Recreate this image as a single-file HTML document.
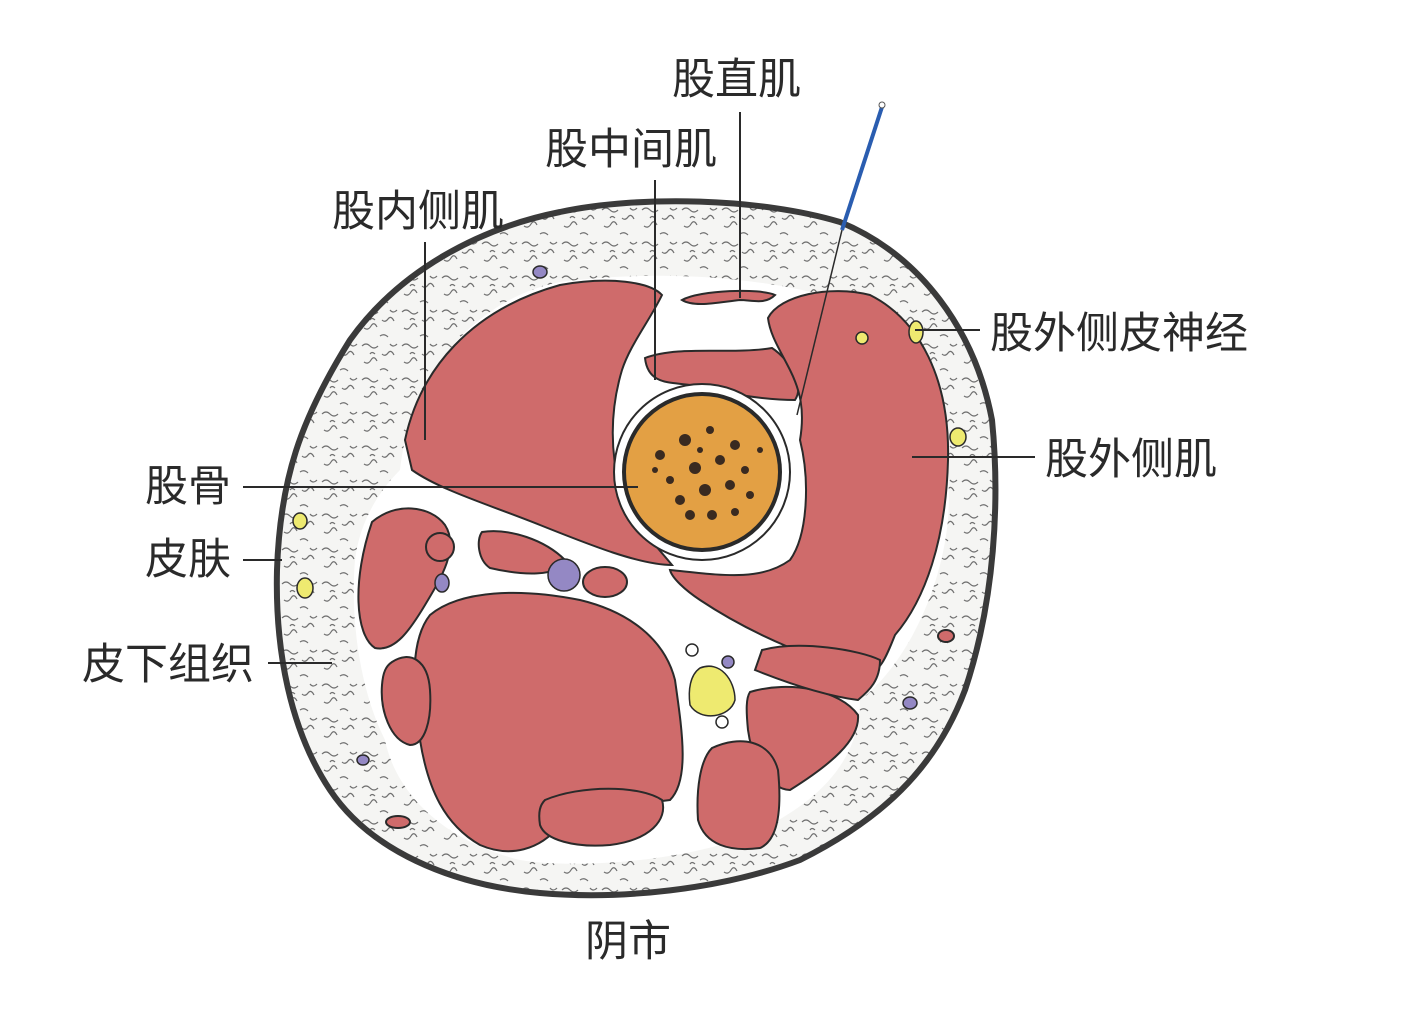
<!DOCTYPE html>
<html><head><meta charset="utf-8"><style>
html,body{margin:0;padding:0;background:#fff;}
svg{display:block;}
text{font-family:"Liberation Sans","Noto Sans CJK SC",sans-serif;font-size:43px;fill:#2a2a2a;}
</style></head><body>
<svg width="1405" height="1017" viewBox="0 0 1405 1017" xmlns="http://www.w3.org/2000/svg">
<defs>
<pattern id="sq" width="40" height="34" patternUnits="userSpaceOnUse">
<rect width="40" height="34" fill="#f5f5f3"/>
<path d="M2 6 q4 -4 8 0 t8 0 M22 14 q3 3 6 -1 t6 2 M4 22 q4 3 7 -2 t6 1 M20 30 q4 -3 8 1 M30 4 q3 4 7 0 M10 14 q2 -3 5 0" stroke="#707070" stroke-width="1.2" fill="none"/>
</pattern>
</defs>
<rect width="1405" height="1017" fill="#fff"/>
<path d="M560 212 C640 195 760 198 840 222 C920 255 975 330 992 420 C1000 500 995 600 965 690 C935 770 880 820 800 860 C720 890 620 900 540 893 C450 885 370 850 330 790 C290 730 275 650 277 570 C280 480 300 420 350 340 C400 270 480 228 560 212 Z" fill="url(#sq)" stroke="#3a3a3a" stroke-width="6"/>
<path d="M400 470 C410 380 470 300 560 282 C650 270 760 275 840 300 C920 330 955 420 948 520 C940 600 900 670 860 700 C860 760 820 800 760 830 C700 860 580 870 520 860 C440 840 395 790 385 740 C360 690 350 620 355 560 C360 520 380 490 400 470 Z" fill="#fff"/>
<g fill="#cf6b6b" stroke="#2a2a2a" stroke-width="2">
<path d="M405 440 C420 370 470 310 560 285 C610 276 650 282 662 295 C650 320 630 345 622 370 C610 410 610 450 620 490 C635 525 660 550 672 565 C640 565 590 545 540 525 C490 505 440 490 412 470 Z"/>
<path d="M682 300 C700 290 760 288 775 295 C765 305 752 300 740 300 C720 302 695 308 682 300 Z"/>
<path d="M645 358 C680 345 730 355 772 348 C790 360 805 385 795 400 C760 400 720 392 690 385 C670 382 648 385 645 358 Z"/>
<path d="M768 318 C780 295 830 285 870 295 C920 320 950 380 948 460 C946 540 925 600 895 635 C885 660 880 672 865 675 C820 660 760 640 700 600 C685 590 672 578 670 570 C720 575 760 582 790 560 C808 535 810 480 800 440 C805 410 800 390 790 370 C780 350 770 335 768 318 Z"/>
<path d="M372 522 C395 502 430 505 445 525 C460 548 440 580 425 605 C410 630 395 652 375 648 C355 635 352 580 372 522 Z"/>
<path d="M482 532 C510 528 545 540 565 560 C560 578 520 575 490 568 C478 560 476 540 482 532 Z"/>
<path d="M430 615 C460 590 520 588 580 600 C630 612 665 640 675 680 C682 730 690 780 670 800 C630 805 590 810 560 825 C540 850 510 858 480 845 C445 825 428 790 420 740 C412 690 410 640 430 615 Z"/>
<path d="M392 662 C410 650 428 660 430 690 C432 720 425 745 410 745 C390 740 380 710 382 685 C383 672 386 666 392 662 Z"/>
<path d="M750 692 C790 680 840 690 858 715 C860 740 830 765 790 790 C770 790 752 760 748 730 C746 710 746 698 750 692 Z"/>
<path d="M712 748 C740 735 770 740 778 770 C782 810 778 840 760 848 C730 852 705 845 698 820 C696 790 700 760 712 748 Z"/>
<path d="M545 800 C580 785 640 785 662 800 C668 820 650 840 610 845 C575 848 545 840 540 825 C538 812 540 805 545 800 Z"/>
<path d="M762 650 C800 640 860 650 880 660 C880 680 870 690 858 700 C820 695 780 680 755 670 Z"/>
<ellipse cx="440" cy="547" rx="14" ry="14"/>
<ellipse cx="605" cy="582" rx="22" ry="15"/>
<ellipse cx="398" cy="822" rx="12" ry="6"/>
<ellipse cx="946" cy="636" rx="8" ry="6"/>
</g>
<g stroke="#2a2a2a" stroke-width="1.5">
<ellipse cx="564" cy="575" rx="16" ry="16" fill="#9488c4"/>
<ellipse cx="442" cy="583" rx="7" ry="9" fill="#9488c4"/>
<ellipse cx="728" cy="662" rx="6" ry="6" fill="#9488c4"/>
<ellipse cx="910" cy="703" rx="7" ry="6" fill="#9488c4"/>
<ellipse cx="540" cy="272" rx="7" ry="6" fill="#9488c4"/>
<ellipse cx="363" cy="760" rx="6" ry="5" fill="#9488c4"/>
<path d="M700 668 C720 660 735 680 735 700 C730 718 700 722 690 705 C688 690 690 675 700 668 Z" fill="#eeea70"/>
<ellipse cx="692" cy="650" rx="6" ry="6" fill="#fff"/>
<ellipse cx="722" cy="722" rx="6" ry="6" fill="#fff"/>
<ellipse cx="916" cy="332" rx="7" ry="11" fill="#eeea70"/>
<ellipse cx="862" cy="338" rx="6" ry="6" fill="#eeea70"/>
<ellipse cx="958" cy="437" rx="8" ry="9" fill="#eeea70"/>
<ellipse cx="300" cy="521" rx="7" ry="8" fill="#eeea70"/>
<ellipse cx="305" cy="588" rx="8" ry="10" fill="#eeea70"/>
</g>
<circle cx="702" cy="472" r="88" fill="#fff" stroke="#2a2a2a" stroke-width="2"/>
<circle cx="702" cy="472" r="78" fill="#e3a044" stroke="#2a2a2a" stroke-width="4"/>
<g fill="#3a2a20">
<circle cx="660" cy="455" r="5"/><circle cx="685" cy="440" r="6"/><circle cx="710" cy="430" r="4"/><circle cx="735" cy="445" r="5"/>
<circle cx="670" cy="480" r="4"/><circle cx="695" cy="468" r="6"/><circle cx="720" cy="460" r="5"/><circle cx="745" cy="470" r="4"/>
<circle cx="680" cy="500" r="5"/><circle cx="705" cy="490" r="6"/><circle cx="730" cy="485" r="5"/><circle cx="750" cy="495" r="4"/>
<circle cx="690" cy="515" r="5"/><circle cx="712" cy="515" r="5"/><circle cx="735" cy="512" r="4"/><circle cx="655" cy="470" r="3"/>
<circle cx="700" cy="450" r="3"/><circle cx="760" cy="450" r="3"/>
</g>
<g stroke="#2a2a2a" stroke-width="2">
<line x1="740" y1="112" x2="740" y2="298"/>
<line x1="655" y1="180" x2="655" y2="380"/>
<line x1="425" y1="242" x2="425" y2="440"/>
<line x1="243" y1="487" x2="638" y2="487"/>
<line x1="243" y1="560" x2="282" y2="560"/>
<line x1="268" y1="663" x2="332" y2="663"/>
<line x1="915" y1="330" x2="980" y2="330"/>
<line x1="912" y1="457" x2="1035" y2="457"/>
<line x1="842" y1="230" x2="797" y2="415" stroke-width="1.5"/>
</g>
<line x1="882" y1="107" x2="842" y2="230" stroke="#2a5db0" stroke-width="4"/>
<circle cx="882" cy="105" r="3" fill="#fff" stroke="#555" stroke-width="1"/>
<text x="672" y="94">股直肌</text>
<text x="545" y="164">股中间肌</text>
<text x="332" y="226">股内侧肌</text>
<text x="990" y="348">股外侧皮神经</text>
<text x="1045" y="474">股外侧肌</text>
<text x="145" y="501">股骨</text>
<text x="145" y="574">皮肤</text>
<text x="82" y="679">皮下组织</text>
<text x="585" y="956">阴市</text>
</svg>
</body></html>
